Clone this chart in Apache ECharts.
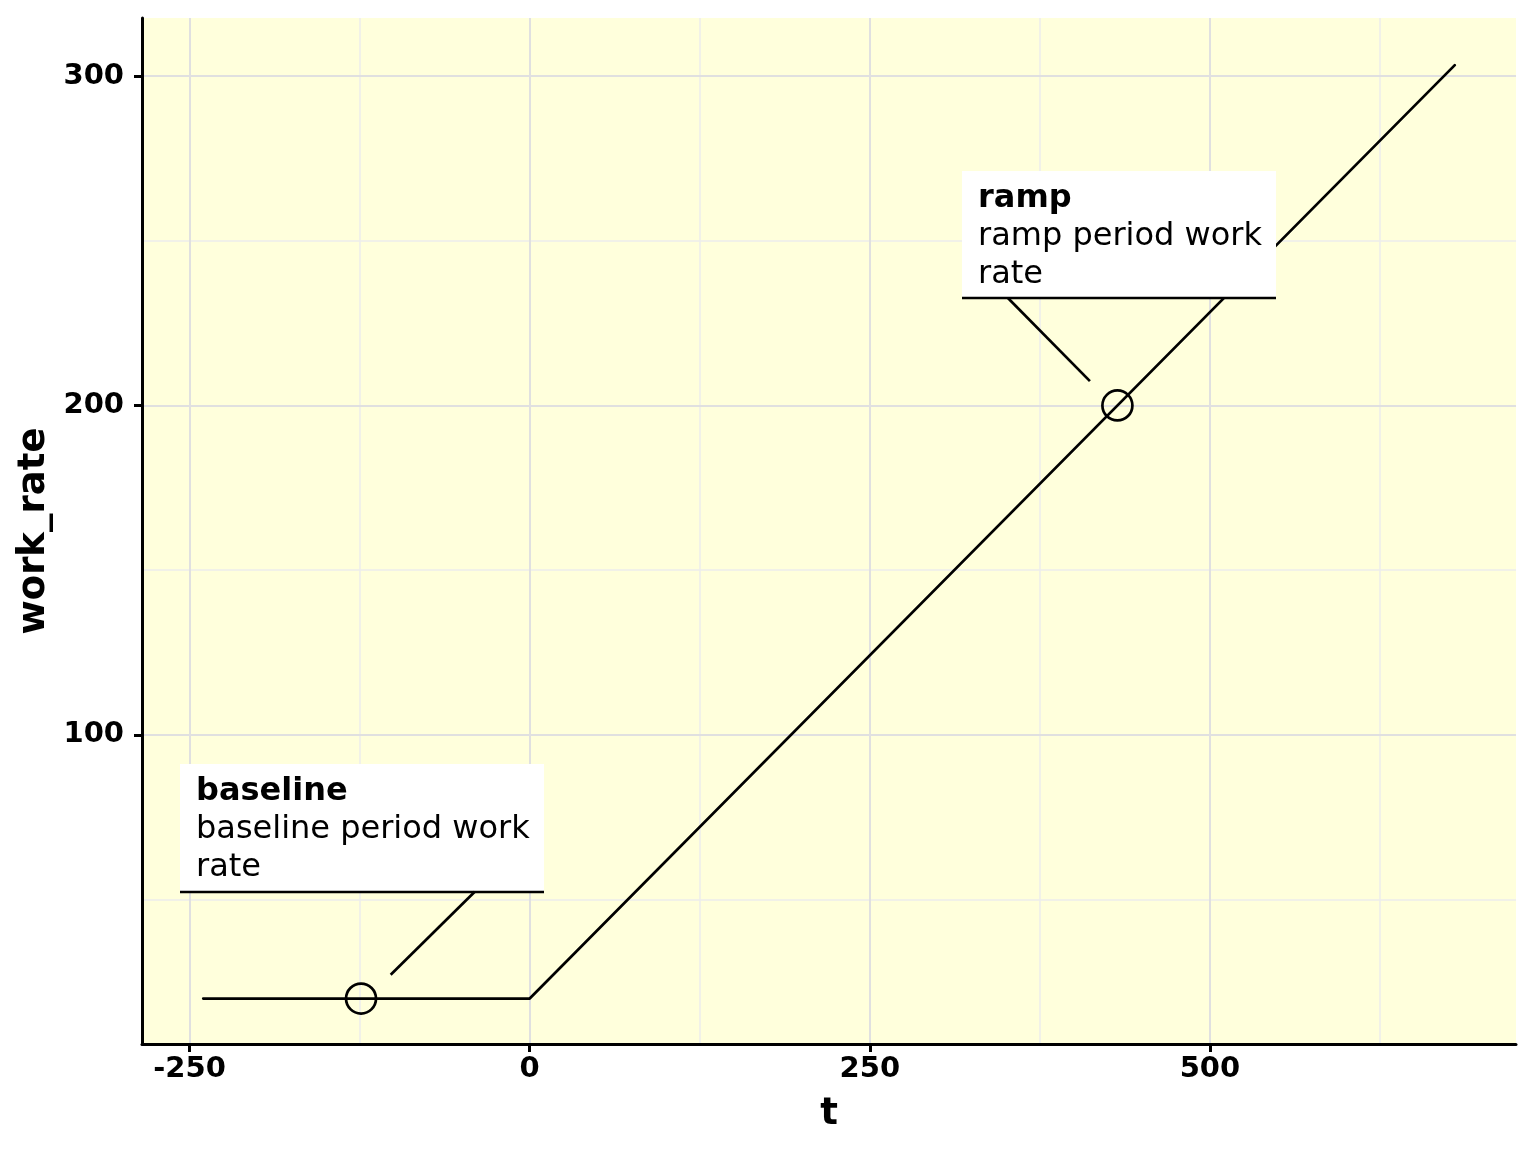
<!DOCTYPE html>
<html>
<head>
<meta charset="utf-8">
<script src="https://cdn.jsdelivr.net/npm/echarts@6/dist/echarts.min.js"></script>
<style>
html,body{margin:0;padding:0;background:#fff;}
#chart{width:1536px;height:1152px;}
</style>
</head>
<body>
<div id="chart"></div>
<script>
// ---- data ----
const lineT = [-240, 0, 680];
const lineWorkRate = [20, 20, 303.3];
const pointT = [-124, 432];
const pointWorkRate = [20, 200];
const xTickValues = [-250, 0, 250, 500];
const yTickValues = [100, 200, 300];
const xMinorGrid = [-125, 125, 375, 625];
const yMinorGrid = [50, 150, 250];
const labelTitles = ['baseline', 'ramp'];
const labelBodies = [['baseline period work', 'rate'], ['ramp period work', 'rate']];

// annotation placement (data coordinates): box [left, top, right, bottom], leader [[x,y],[x,y]]
const labelBoxes = [[-257.4, 91.2, 10.3, 52.4], [317.6, 271.2, 548.5, 232.6]];
const labelLeaders = [[[-40.4, 52.4], [-102.2, 27.2]], [[351.5, 232.6], [411.8, 207.4]]];

const FONT = 'DejaVu Sans';
const chart = echarts.init(document.getElementById('chart'), null, {renderer: 'canvas'});

const gridMark = (vals, axis, color, width) => ({
  silent: true, symbol: 'none', label: {show: false}, z: 0,
  lineStyle: {color: color, width: width, type: 'solid'},
  data: vals.map(v => ({[axis]: v}))
});

const option = {
  animation: false,
  backgroundColor: '#ffffff',
  grid: {left: 142, right: 20, top: 18, bottom: 108, show: true, backgroundColor: '#FFFFDC', borderWidth: 0},
  xAxis: {
    type: 'value', min: -285, max: 725,
    name: 't', nameLocation: 'middle', nameGap: 52,
    nameTextStyle: {fontFamily: FONT, fontWeight: 'bold', fontSize: 37, color: '#000'},
    axisLine: {show: true, onZero: false, lineStyle: {color: '#000', width: 3}},
    axisTick: {show: true, length: 8, lineStyle: {color: '#000', width: 3}, customValues: xTickValues},
    axisLabel: {fontFamily: FONT, fontWeight: 'bold', fontSize: 29, color: '#000', margin: 11, customValues: xTickValues},
    splitLine: {show: false}
  },
  yAxis: {
    type: 'value', min: 6.2, max: 317.6,
    name: 'work_rate', nameLocation: 'middle', nameGap: 88, nameRotate: 90,
    nameTextStyle: {fontFamily: FONT, fontWeight: 'bold', fontSize: 37, color: '#000'},
    axisLine: {show: true, onZero: false, lineStyle: {color: '#000', width: 3}},
    axisTick: {show: true, length: 8, lineStyle: {color: '#000', width: 3}, customValues: yTickValues},
    axisLabel: {fontFamily: FONT, fontWeight: 'bold', fontSize: 29, color: '#000', margin: 18, customValues: yTickValues},
    splitLine: {show: false}
  },
  series: [
    {type: 'line', data: [], z: 0, markLine: gridMark(xMinorGrid, 'xAxis', '#EDEDED', 1.5)},
    {type: 'line', data: [], z: 0, markLine: gridMark(yMinorGrid, 'yAxis', '#EDEDED', 1.5)},
    {type: 'line', data: [], z: 0, markLine: gridMark(xTickValues, 'xAxis', '#E0E0E0', 2)},
    {type: 'line', data: [], z: 0, markLine: gridMark(yTickValues, 'yAxis', '#E0E0E0', 2)},
    {
      type: 'line', z: 10, symbol: 'none', silent: true,
      data: lineT.map((t, i) => [t, lineWorkRate[i]]),
      lineStyle: {color: '#000', width: 2.7, cap: 'round', join: 'round'}
    },
    {
      type: 'scatter', z: 11, symbol: 'circle', symbolSize: 30, silent: true,
      data: pointT.map((t, i) => [t, pointWorkRate[i]]),
      itemStyle: {color: 'rgba(0,0,0,0)', borderColor: '#000', borderWidth: 2.7, opacity: 1}
    }
  ]
};
chart.setOption(option);

function drawAnnotations() {
  const elems = [];
  labelBoxes.forEach((b, i) => {
    const p1 = chart.convertToPixel({gridIndex: 0}, [b[0], b[1]]);
    const p2 = chart.convertToPixel({gridIndex: 0}, [b[2], b[3]]);
    const x1 = Math.round(p1[0]), y1 = Math.round(p1[1]);
    const x2 = Math.round(p2[0]), y2 = Math.round(p2[1]);
    elems.push({type: 'rect', z: 100, silent: true,
      shape: {x: x1, y: y1, width: x2 - x1, height: y2 - y1},
      style: {fill: '#ffffff'}});
    const lines = [labelTitles[i]].concat(labelBodies[i]);
    lines.forEach((txt, k) => {
      elems.push({type: 'text', z: 101, silent: true,
        x: x1 + 16, y: y1 + 28 + 38 * k,
        style: {text: txt, fill: '#000', fontFamily: FONT, fontSize: 32,
          fontWeight: k === 0 ? 'bold' : 'normal', align: 'left', verticalAlign: 'middle'}});
    });
    elems.push({type: 'line', z: 102, silent: true,
      shape: {x1: x1, y1: y2, x2: x2, y2: y2},
      style: {stroke: '#000', lineWidth: 2.7}});
    const l = labelLeaders[i];
    const a = chart.convertToPixel({gridIndex: 0}, l[0]);
    const c = chart.convertToPixel({gridIndex: 0}, l[1]);
    elems.push({type: 'line', z: 102, silent: true,
      shape: {x1: a[0], y1: a[1], x2: c[0], y2: c[1]},
      style: {stroke: '#000', lineWidth: 2.7}});
  });
  chart.setOption({graphic: elems});
}
drawAnnotations();
</script>
</body>
</html>
